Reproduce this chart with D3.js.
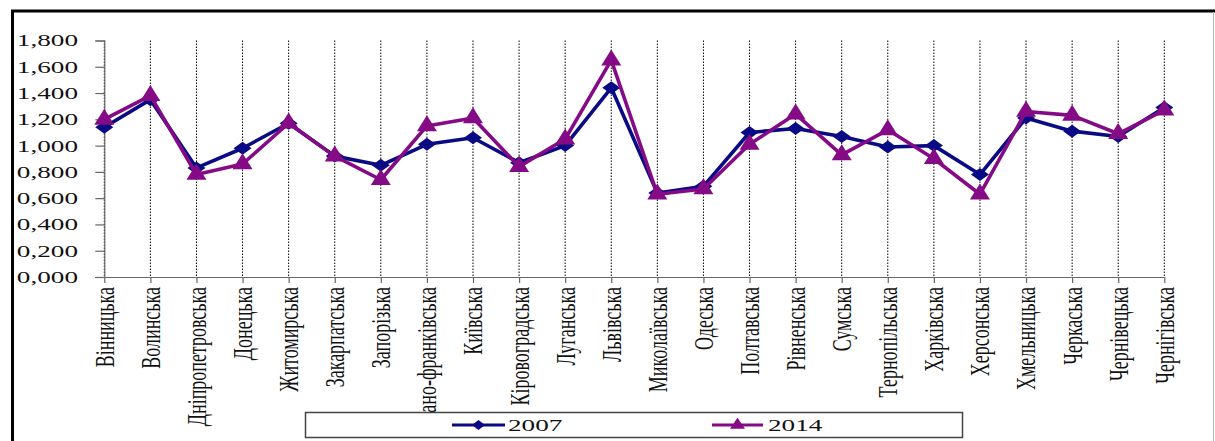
<!DOCTYPE html>
<html>
<head>
<meta charset="utf-8">
<script src="https://cdn.jsdelivr.net/npm/d3@7"></script>
<style>
  html, body { margin: 0; padding: 0; background: #fff; }
  svg { display: block; }
  text { font-family: "Liberation Serif", "Times New Roman", serif; fill: #111; }
</style>
</head>
<body>
<svg id="chart" width="1215" height="441"></svg>
<script>
// Regions of Ukraine
const regions = [
  "Вінницька", "Волинська", "Дніпропетровська", "Донецька", "Житомирська",
  "Закарпатська", "Запорізька", "Івано-франківська", "Київська", "Кіровоградська",
  "Луганська", "Львівська", "Миколаївська", "Одеська", "Полтавська",
  "Рівненська", "Сумська", "Тернопільська", "Харківська", "Херсонська",
  "Хмельницька", "Черкаська", "Чернівецька", "Чернігівська"
];

const values2007 = [
  1.14, 1.35, 0.83, 0.98, 1.17, 0.92, 0.85, 1.01, 1.06, 0.87,
  1.00, 1.44, 0.64, 0.69, 1.10, 1.13, 1.07, 0.99, 1.00, 0.78,
  1.21, 1.11, 1.07, 1.29
];

const values2014 = [
  1.20, 1.38, 0.78, 0.86, 1.17, 0.92, 0.74, 1.15, 1.21, 0.84,
  1.05, 1.65, 0.63, 0.67, 1.01, 1.24, 0.93, 1.12, 0.90, 0.63,
  1.26, 1.23, 1.09, 1.27
];

const yTicks = [0, 0.2, 0.4, 0.6, 0.8, 1.0, 1.2, 1.4, 1.6, 1.8];
const seriesNames = ["2007", "2014"];

const series = [
  { name: seriesNames[0], values: values2007, color: "#0a0a85", marker: "diamond" },
  { name: seriesNames[1], values: values2014, color: "#850a85", marker: "triangle" }
];

const svg = d3.select("#chart");

// Outer frame
svg.append("line").attr("x1", 11).attr("x2", 1215).attr("y1", 11).attr("y2", 11)
  .attr("stroke", "#000").attr("stroke-width", 3);
svg.append("line").attr("x1", 12.5).attr("x2", 12.5).attr("y1", 10).attr("y2", 441)
  .attr("stroke", "#000").attr("stroke-width", 3);
svg.append("line").attr("x1", 1213.5).attr("x2", 1213.5).attr("y1", 12).attr("y2", 441)
  .attr("stroke", "#b8b8b8").attr("stroke-width", 1);

// Scales
const x = d3.scalePoint().domain(regions).range([104.3, 1164.3]);
const y = d3.scaleLinear().domain([0, 1.8]).range([277, 40.5]);

const fmt = v => d3.format(".3f")(v).replace(".", ",");

// Vertical dotted gridlines
svg.append("g").selectAll("line").data(regions).join("line")
  .attr("x1", d => x(d)).attr("x2", d => x(d))
  .attr("y1", y(1.8)).attr("y2", y(0))
  .attr("stroke", "#000").attr("stroke-width", 1)
  .attr("stroke-dasharray", "1.5,1.5");

// Y axis
const yAxis = d3.axisLeft(y).tickValues(yTicks).tickSize(9).tickFormat("");
const gy = svg.append("g").attr("transform", `translate(${x(regions[0])},0)`).call(yAxis);
gy.select(".domain").attr("stroke", "#666").attr("stroke-width", 1.2);
gy.selectAll(".tick line").attr("stroke", "#666").attr("stroke-width", 1.2);

svg.append("g").selectAll("text").data(yTicks).join("text")
  .attr("transform", d => `translate(78,${y(d)}) scale(1.6,1)`)
  .attr("text-anchor", "end")
  .attr("dy", "0.35em")
  .style("font-size", "17px")
  .text(d => fmt(d));

// X axis
const xAxis = d3.axisBottom(x).tickSize(6).tickSizeOuter(0).tickFormat("");
const gx = svg.append("g").attr("transform", `translate(0,${y(0)})`).call(xAxis);
gx.select(".domain").attr("stroke", "#666").attr("stroke-width", 1.2)
  .attr("d", `M${x(regions[0]) - 9},0.5H${x(regions[regions.length - 1])}`);
gx.selectAll(".tick line").attr("stroke", "#666").attr("stroke-width", 1.2);

svg.append("g").selectAll("text").data(regions).join("text")
  .attr("transform", d => `translate(${x(d)},287) scale(1.5,1) rotate(-90)`)
  .attr("text-anchor", "end")
  .attr("dy", "0.35em")
  .style("font-size", "18px")
  .text(d => d);

// Marker shapes (slightly wider than tall)
function markerPath(type, w, h) {
  if (type === "diamond") {
    return `M0,${-h / 2}L${w / 2},0L0,${h / 2}L${-w / 2},0Z`;
  }
  return `M0,${-h * 2 / 3}L${w / 2},${h / 3}L${-w / 2},${h / 3}Z`;
}

const line = d3.line().x((d, i) => x(regions[i])).y(d => y(d));

series.forEach(s => {
  const g = svg.append("g");
  g.append("path").datum(s.values)
    .attr("d", line)
    .attr("fill", "none")
    .attr("stroke", s.color)
    .attr("stroke-width", 3.6)
    .attr("stroke-linejoin", "round");
  const w = s.marker === "diamond" ? 18 : 20;
  const h = s.marker === "diamond" ? 13 : 16;
  g.selectAll("path.m").data(s.values).join("path")
    .attr("class", "m")
    .attr("transform", (d, i) => `translate(${x(regions[i])},${y(d)})`)
    .attr("d", markerPath(s.marker, w, h))
    .attr("fill", s.color);
});

// Legend
const legend = svg.append("g");
legend.append("rect")
  .attr("x", 305.5).attr("y", 412.5).attr("width", 657).attr("height", 25)
  .attr("fill", "#fff").attr("stroke", "#444").attr("stroke-width", 1.5);

const legendItems = [
  { s: series[0], x1: 452, x2: 505, tx: 508 },
  { s: series[1], x1: 712, x2: 763, tx: 768 }
];
legendItems.forEach(it => {
  const cy = 425;
  legend.append("line").attr("x1", it.x1).attr("x2", it.x2).attr("y1", cy).attr("y2", cy)
    .attr("stroke", it.s.color).attr("stroke-width", 3);
  const cx = (it.x1 + it.x2) / 2;
  legend.append("path")
    .attr("transform", `translate(${cx},${cy})`)
    .attr("d", it.s.marker === "diamond" ? markerPath("diamond", 13, 10) : markerPath("triangle", 15, 11))
    .attr("fill", it.s.color);
  legend.append("text")
    .attr("transform", `translate(${it.tx},${cy}) scale(1.6,1)`)
    .attr("dy", "0.36em")
    .style("font-size", "17px")
    .text(it.s.name);
});
</script>
</body>
</html>
